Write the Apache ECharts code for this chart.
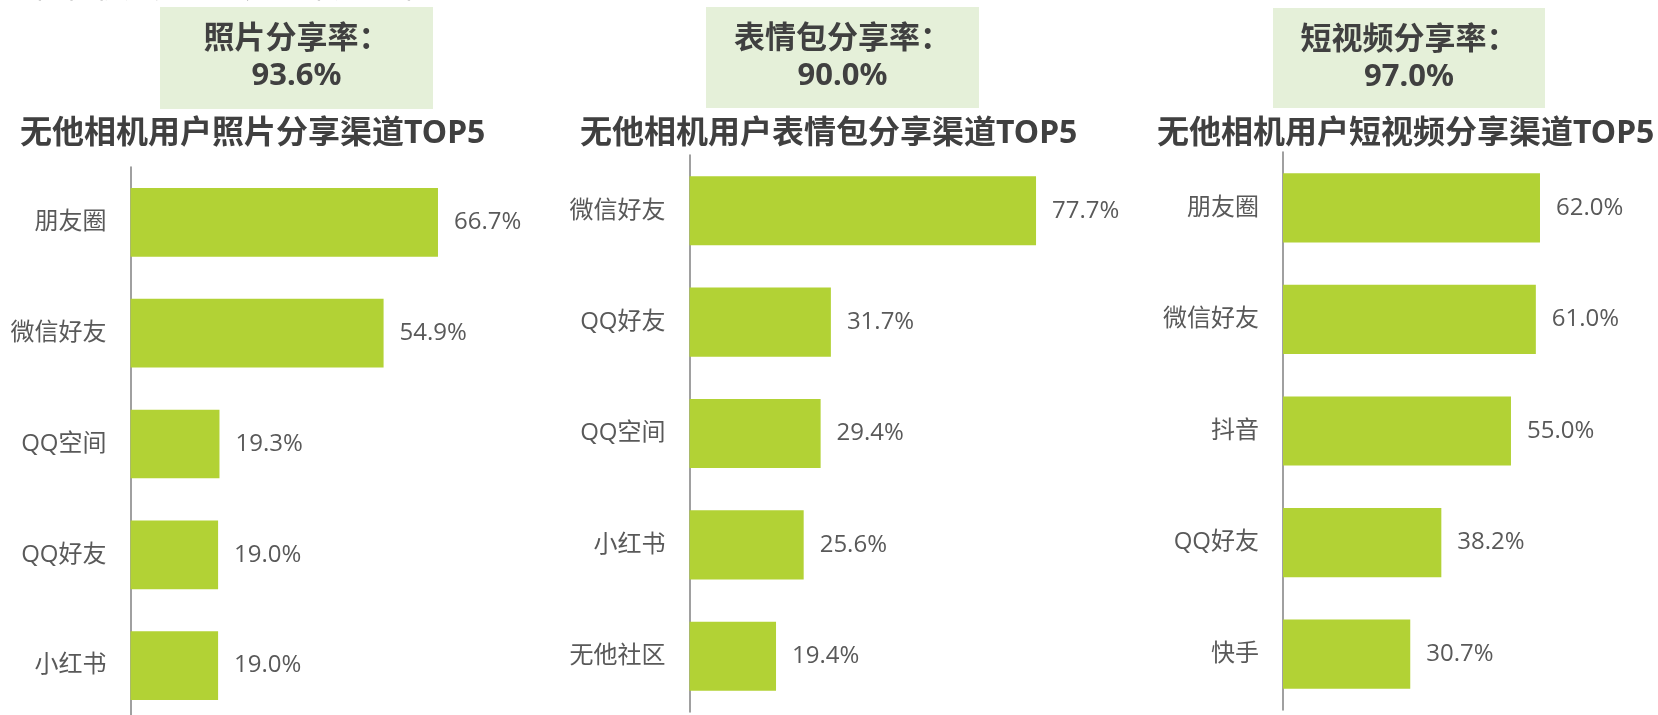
<!DOCTYPE html>
<html>
<head>
<meta charset="utf-8">
<script src="https://cdn.jsdelivr.net/npm/echarts@6/dist/echarts.min.js"></script>
<style>
  html, body { margin: 0; padding: 0; background: #fff; }
  #chart { width: 1658px; height: 715px; }
</style>
</head>
<body>
<div id="chart"></div>
<script>
// share channel TOP5 for three content types
const photoCats = ['朋友圈', '微信好友', 'QQ空间', 'QQ好友', '小红书'];
const photoVals = [66.7, 54.9, 19.3, 19.0, 19.0];
const stickerCats = ['微信好友', 'QQ好友', 'QQ空间', '小红书', '无他社区'];
const stickerVals = [77.7, 31.7, 29.4, 25.6, 19.4];
const videoCats = ['朋友圈', '微信好友', '抖音', 'QQ好友', '快手'];
const videoVals = [62.0, 61.0, 55.0, 38.2, 30.7];
const shareNames = ['照片', '表情包', '短视频'];
const shareRates = [93.6, 90.0, 97.0];

(function(){
  const el = document.getElementById('chart');
  const chart = echarts.init(el);
  const font = '"Open Sans", "Noto Sans CJK SC", sans-serif';
  const boldFont = '"Noto Sans", "Noto Sans CJK SC", sans-serif';
  const barColor = '#B2D235';
  const textColor = '#595959';
  const titleColor = '#404040';

  // layout per panel (x scale: px per % differs a bit between panels)
  const panels = [
    { cats: photoCats, vals: photoVals, max: 100, grid: { left: 130.5, top: 167, width: 461, height: 554 },
      titleLeft: 20, box: [160, 7, 273, 102] },
    { cats: stickerCats, vals: stickerVals, max: 100, grid: { left: 689.5, top: 155, width: 446, height: 557 },
      titleLeft: 580, box: [706, 7, 273, 101] },
    { cats: videoCats, vals: videoVals, max: 80, grid: { left: 1283, top: 152, width: 331.6, height: 558 },
      titleLeft: 1157, box: [1273, 8, 272, 100] }
  ];

  const graphics = [{
    type: 'text', left: 4, top: -27,
    style: { text: '无他相机用户主要分享渠道的平台', font: '30px ' + font, fill: textColor }
  }];
  panels.forEach(function(p, i){
    const b = p.box;
    graphics.push({ type: 'rect', shape: { x: b[0], y: b[1], width: b[2], height: b[3] },
      style: { fill: '#E5F0D9' } });
    graphics.push({ type: 'text', x: b[0] + b[2] / 2, y: b[1] + 14,
      style: { text: shareNames[i] + '分享率：\n' + shareRates[i].toFixed(1) + '%',
        align: 'center', verticalAlign: 'top', lineHeight: 37,
        font: 'bold 31px ' + boldFont, fill: titleColor } });
  });

  chart.setOption({
    backgroundColor: '#fff',
    animation: false,
    title: panels.map(function(p, i){
      return { text: '无他相机用户' + shareNames[i] + '分享渠道TOP5', left: p.titleLeft, top: 118, padding: 0,
        textStyle: { fontFamily: boldFont, fontSize: 32, fontWeight: 'bold', color: titleColor } };
    }),
    graphic: graphics,
    grid: panels.map(function(p){ return Object.assign({ outerBoundsMode: 'none', containLabel: false }, p.grid); }),
    xAxis: panels.map(function(p, i){
      return { type: 'value', gridIndex: i, min: 0, max: p.max, show: false };
    }),
    yAxis: panels.map(function(p, i){
      return { type: 'category', gridIndex: i, data: p.cats, inverse: true,
        axisLine: { show: true, lineStyle: { color: '#808080', width: 1.5 } },
        axisTick: { show: false },
        axisLabel: { margin: 24, fontSize: 24, color: textColor, fontFamily: font } };
    }),
    series: panels.map(function(p, i){
      return { type: 'bar', xAxisIndex: i, yAxisIndex: i, data: p.vals,
        barCategoryGap: '38%', itemStyle: { color: barColor },
        label: { show: true, position: 'right', distance: 16, fontSize: 24, color: textColor,
          fontFamily: font, formatter: function(d){ return d.value.toFixed(1) + '%'; } } };
    })
  });
})();
</script>
</body>
</html>
